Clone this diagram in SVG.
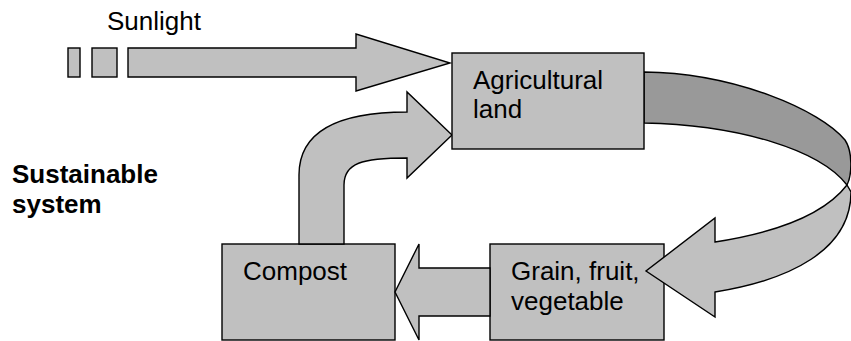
<svg xmlns="http://www.w3.org/2000/svg" width="851" height="341" viewBox="0 0 851 341">
<style>
.box{fill:#c0c0c0;stroke:#000;stroke-width:1.4}
.arr{fill:#c0c0c0;stroke:#000;stroke-width:1.4;stroke-linejoin:miter}
.dark{fill:#999999;stroke:#000;stroke-width:1.4}
.t{font-family:"Liberation Sans",Arial,sans-serif;font-size:26px;fill:#000}
.b{font-weight:bold}
</style>
<rect width="851" height="341" fill="#fff"/>
<text class="t" x="107" y="30">Sunlight</text>
<text class="t b" x="12" y="183">Sustainable</text>
<text class="t b" x="12" y="213">system</text>
<g id="grain">
<rect class="box" x="490" y="244" width="174" height="96"/>
<text class="t" x="511" y="280">Grain, fruit,</text>
<text class="t" x="511" y="310">vegetable</text>
</g>
<g id="compost">
<rect class="box" x="222" y="244" width="173" height="96"/>
<text class="t" x="243" y="280">Compost</text>
</g>
<g id="connectors">
<rect class="arr" x="68" y="48" width="12" height="29"/>
<rect class="arr" x="92" y="48" width="25" height="29"/>
<path class="arr" d="M128,48 L356,48 L356,34 L450,63 L356,91 L356,77 L128,77 Z"/>
<path class="arr" d="M299,244 L299,175 C299,130 340,112 407,112 L407,92 L452,135 L407,178 L407,158 C362,158 344,163 344,185 L344,244 Z"/>
<path class="arr" d="M490,268 L419,268 L419,244 L395,292 L419,340 L419,316 L490,316 Z"/>
<path class="dark" d="M644,72 C735,73 820,110 845,140 C853,152 852,175 847,185 C820,150 740,125 644,123 Z"/>
<path class="arr" d="M847,185 L851,192 C851,250 790,280 715,292 L715,317 L646,271 L715,218 L715,242 C760,235 820,220 847,185 Z"/>
</g>
<g id="agri">
<rect class="box" x="452" y="53" width="192" height="96"/>
<text class="t" x="473" y="89">Agricultural</text>
<text class="t" x="473" y="118">land</text>
</g>
</svg>
